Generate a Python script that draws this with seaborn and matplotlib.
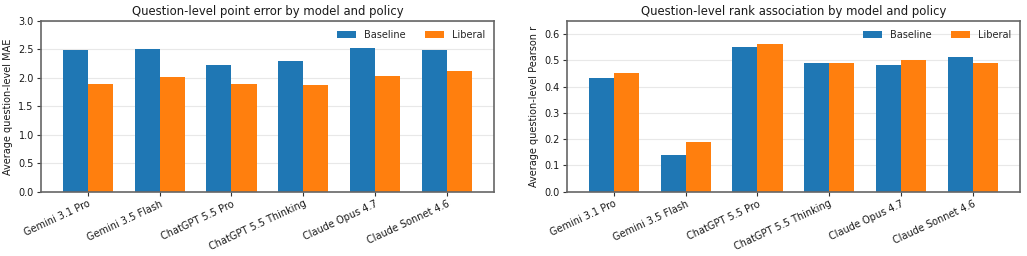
import matplotlib
matplotlib.use("Agg")
import matplotlib.pyplot as plt
import seaborn as sns
import pandas as pd

models = ["Gemini 3.1 Pro", "Gemini 3.5 Flash", "ChatGPT 5.5 Pro",
          "ChatGPT 5.5 Thinking", "Claude Opus 4.7", "Claude Sonnet 4.6"]
policies = ["Baseline", "Liberal"]
mae_baseline = [2.49, 2.51, 2.23, 2.30, 2.52, 2.49]
mae_liberal = [1.89, 2.02, 1.89, 1.875, 2.03, 2.12]
r_baseline = [0.433, 0.140, 0.552, 0.491, 0.483, 0.513]
r_liberal = [0.452, 0.189, 0.563, 0.491, 0.502, 0.491]

colors = ["#1f77b4", "#ff7f0e"]

def make_df(b, l):
    rows = []
    for m, v in zip(models, b):
        rows.append({"model": m, "policy": "Baseline", "value": v})
    for m, v in zip(models, l):
        rows.append({"model": m, "policy": "Liberal", "value": v})
    return pd.DataFrame(rows)

sns.set_theme(style="white")
plt.rcParams["font.family"] = ["DejaVu Sans"]

fig, axes = plt.subplots(1, 2, figsize=(10.27, 2.56), dpi=100)
fig.subplots_adjust(left=0.0396, right=0.9932, top=0.918, bottom=0.251, wspace=0.16)

specs = [
    (axes[0], make_df(mae_baseline, mae_liberal), "Question-level point error by model and policy",
     "Average question-level MAE", (0, 3.0)),
    (axes[1], make_df(r_baseline, r_liberal), "Question-level rank association by model and policy",
     "Average question-level Pearson r", (0, 0.65)),
]

for ax, df, title, ylabel, ylim in specs:
    sns.barplot(data=df, x="model", y="value", hue="policy", order=models,
                hue_order=policies, palette=colors, width=0.7, ax=ax,
                saturation=1, errorbar=None, linewidth=0, edgecolor="none")
    ax.set_xlim(-0.66, 5.66)
    ax.set_ylim(*ylim)
    ax.set_title(title, fontsize=8.4, pad=4, color="#1a1a1a")
    ax.set_ylabel(ylabel, fontsize=7, color="#1a1a1a")
    ax.set_xlabel("")
    ax.yaxis.grid(True, color="#e8e8e8", linewidth=0.8)
    ax.set_axisbelow(True)
    for s in ax.spines.values():
        s.set_color("#666666")
        s.set_linewidth(1.2)
    ax.tick_params(axis="both", labelsize=7, length=3, width=0.8, color="#333333",
                   labelcolor="#1a1a1a", bottom=True, left=True, pad=2)
    plt.setp(ax.get_xticklabels(), rotation=25, ha="right", rotation_mode="anchor")
    ax.legend(loc="upper right", ncol=2, frameon=False, fontsize=7,
              handlelength=2.0, columnspacing=2.0)

fig.savefig("out.png", dpi=100)
